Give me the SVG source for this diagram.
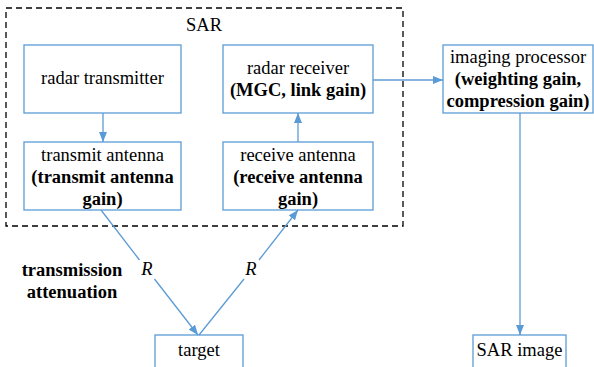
<svg xmlns="http://www.w3.org/2000/svg" width="594" height="367" viewBox="0 0 594 367">
<style>
  .box { fill: #ffffff; stroke: #5B9BD5; stroke-width: 1.3; }
  .conn { fill: none; stroke: #5B9BD5; stroke-width: 1.3; }
  text { font-family: 'Liberation Serif', 'DejaVu Serif', serif; font-size: 18.5px; fill: #000000; text-anchor: middle; }
  .b { font-weight: bold; }
  .i { font-style: italic; }
</style>
<defs>
  <marker id="arr" markerUnits="userSpaceOnUse" markerWidth="10" markerHeight="8" refX="10" refY="4" orient="auto">
    <path d="M0,0 L10,4 L0,8 z" fill="#5B9BD5"/>
  </marker>
</defs>
<rect width="594" height="367" fill="#ffffff"/>
<g id="sar-group" font-family="Liberation Serif">
  <rect x="6" y="8" width="397" height="218" fill="none" stroke="#000" stroke-width="1.3" stroke-dasharray="6,4"/>
  <text x="204" y="31">SAR</text>
</g>
<g id="radar-transmitter" font-family="Liberation Serif">
  <rect class="box" x="24" y="45" width="157" height="68"/>
  <text x="102.5" y="84">radar transmitter</text>
</g>
<g id="transmit-antenna" font-family="Liberation Serif">
  <rect class="box" x="24" y="142" width="157" height="68"/>
  <text x="102.5" y="161">transmit antenna</text>
  <text class="b" x="102.5" y="183">(transmit antenna</text>
  <text class="b" x="102.5" y="205">gain)</text>
</g>
<g id="radar-receiver" font-family="Liberation Serif">
  <rect class="box" x="223" y="45" width="150" height="68"/>
  <text x="298" y="74">radar receiver</text>
  <text class="b" x="298" y="96">(MGC, link gain)</text>
</g>
<g id="receive-antenna" font-family="Liberation Serif">
  <rect class="box" x="223" y="142" width="150" height="68"/>
  <text x="298" y="161">receive antenna</text>
  <text class="b" x="298" y="183">(receive antenna</text>
  <text class="b" x="298" y="205">gain)</text>
</g>
<g id="imaging-processor" font-family="Liberation Serif">
  <rect class="box" x="443" y="45" width="150" height="68"/>
  <text x="518" y="63">imaging processor</text>
  <text class="b" x="518" y="85">(weighting gain,</text>
  <text class="b" x="518" y="107">compression gain)</text>
</g>
<g id="target" font-family="Liberation Serif">
  <rect class="box" x="155" y="335" width="88" height="33"/>
  <text x="199" y="356">target</text>
</g>
<g id="sar-image" font-family="Liberation Serif">
  <rect class="box" x="473" y="335" width="93" height="33"/>
  <text x="519.5" y="356">SAR image</text>
</g>
<g id="attenuation-label" font-family="Liberation Serif">
  <text class="b" x="72" y="276">transmission</text>
  <text class="b" x="72" y="298">attenuation</text>
</g>
<g id="connectors">
  <path class="conn" d="M103,113 L103,142" marker-end="url(#arr)"/>
  <path class="conn" d="M298,142 L298,113" marker-end="url(#arr)"/>
  <path class="conn" d="M373,80 L443,80" marker-end="url(#arr)"/>
  <path class="conn" d="M520,113 L520,335" marker-end="url(#arr)"/>
  <path class="conn" d="M101,210 L139.5,260 M154.5,279 L198,335" marker-end="url(#arr)"/>
  <path class="conn" d="M199,335 L244,279 M259,260 L298,210" marker-end="url(#arr)"/>
  <text class="i" x="147" y="275" font-family="Liberation Serif">R</text>
  <text class="i" x="251" y="275" font-family="Liberation Serif">R</text>
</g>
</svg>
